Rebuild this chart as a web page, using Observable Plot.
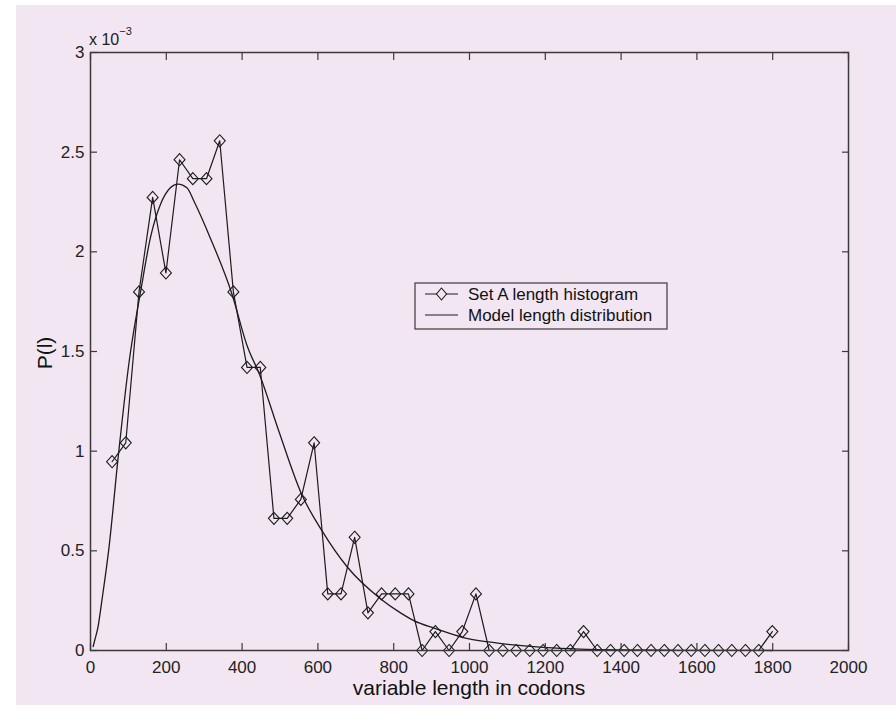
<!DOCTYPE html>
<html>
<head>
<meta charset="utf-8">
<script src="https://cdn.jsdelivr.net/npm/d3@7"></script>
<script src="https://cdn.jsdelivr.net/npm/@observablehq/plot@0.6"></script>
<style>
  html, body { margin: 0; padding: 0; background: #ffffff; }
  #wrap { position: relative; width: 896px; height: 712px; overflow: hidden; }
  #bg { position: absolute; left: 16px; top: 5px; width: 880px; height: 700px; background: #f2e6f2; }
  #chart { position: absolute; left: 0; top: 0; }
</style>
</head>
<body>
<div id="wrap"><div id="bg"></div><div id="chart"></div></div>
<script>
// Histogram (Set A length histogram): bin positions (codons) and P(l) in units of 1e-3
const histX = [57, 93, 128, 164, 199, 235, 270, 306, 341, 377, 413, 448, 484, 519, 555, 590, 626, 661, 697, 732,
  768, 804, 839, 875, 910, 946, 981, 1017, 1052, 1088, 1123, 1159, 1194, 1230, 1266, 1301, 1337, 1372, 1408, 1443,
  1479, 1514, 1550, 1585, 1621, 1657, 1692, 1728, 1763, 1799];
const histY = [0.947, 1.042, 1.799, 2.273, 1.894, 2.462, 2.367, 2.367, 2.557, 1.799,
  1.420, 1.420, 0.663, 0.663, 0.758, 1.042, 0.284, 0.284, 0.568, 0.189,
  0.284, 0.284, 0.284, 0, 0.095, 0, 0.095, 0.284, 0, 0,
  0, 0, 0, 0, 0, 0.095, 0, 0, 0, 0,
  0, 0, 0, 0, 0, 0, 0, 0, 0, 0.095];

// Model length distribution (codons, P(l) in units of 1e-3)
const modelX = [7, 11, 20, 30, 49, 73, 102, 134, 158, 185, 210, 231, 255, 274, 316, 373, 413, 447, 497, 558,
  611, 677, 765, 817, 853, 910, 984, 1050, 1116, 1204, 1292, 1400, 1550, 1700, 1800];
const modelY = [0.02, 0.05, 0.12, 0.25, 0.52, 0.97, 1.45, 1.82, 2.07, 2.24, 2.32, 2.34, 2.32, 2.25, 2.07, 1.79, 1.53, 1.38, 1.10, 0.78,
  0.60, 0.42, 0.26, 0.19, 0.15, 0.11, 0.065, 0.043, 0.028, 0.014, 0.007, 0.003, 0.001, 0.0003, 0.0001];

const xTicks = [0, 200, 400, 600, 800, 1000, 1200, 1400, 1600, 1800, 2000];
const yTicks = [0, 0.5, 1, 1.5, 2, 2.5, 3];

const xLabel = "variable length in codons";
const yLabel = "P(l)";
const legendLabels = ["Set A length histogram", "Model length distribution"];

const hist = histX.map((x, i) => ({x, y: histY[i]}));
const model = modelX.map((x, i) => ({x, y: modelY[i]}));

const diamond = {
  draw(ctx, size) {
    const r = Math.sqrt(size / Math.PI);
    const w = r, h = r * 1.1;
    ctx.moveTo(0, -h); ctx.lineTo(w, 0); ctx.lineTo(0, h); ctx.lineTo(-w, 0); ctx.closePath();
  }
};

const ink = "#1c1c1c";
const axisInk = "#3a3a3a";
const fmt = d => String(d);
const font = "'Liberation Sans', Arial, Helvetica, sans-serif";

const chart = Plot.plot({
  width: 896,
  height: 712,
  marginLeft: 90,
  marginRight: 48,
  marginTop: 52,
  marginBottom: 62,
  style: {background: "transparent", fontFamily: font, fontSize: "17px", color: "#222"},
  x: {domain: [0, 2000]},
  y: {domain: [0, 3]},
  marks: [
    Plot.line(model, {x: "x", y: "y", stroke: ink, strokeWidth: 1.3, curve: "monotone-x"}),
    Plot.line(hist, {x: "x", y: "y", stroke: ink, strokeWidth: 1.2}),
    Plot.dot(hist, {x: "x", y: "y", symbol: diamond, r: 5.5, stroke: ink, strokeWidth: 1.1, fill: "none"}),
    Plot.frame({stroke: axisInk, strokeWidth: 1.5}),
    // inward ticks on all four sides
    Plot.axisX(xTicks, {anchor: "bottom", tickSize: -7, tickFormat: () => "", stroke: axisInk, strokeWidth: 1.2, label: null}),
    Plot.axisX(xTicks, {anchor: "top", tickSize: -7, tickFormat: () => "", stroke: axisInk, strokeWidth: 1.2, label: null}),
    Plot.axisY(yTicks, {anchor: "left", tickSize: -7, tickFormat: () => "", stroke: axisInk, strokeWidth: 1.2, label: null}),
    Plot.axisY(yTicks, {anchor: "right", tickSize: -7, tickFormat: () => "", stroke: axisInk, strokeWidth: 1.2, label: null}),
    // tick labels
    Plot.axisX(xTicks, {anchor: "bottom", tickSize: 0, tickPadding: 10, tickFormat: fmt, label: null, fill: "#222", fontSize: 17}),
    Plot.axisY(yTicks, {anchor: "left", tickSize: 0, tickPadding: 6, tickFormat: fmt, label: null, fill: "#222", fontSize: 17})
  ]
});

document.getElementById("chart").appendChild(chart);

const svg = d3.select(chart);

// exponent label
const ex = svg.append("text").attr("x", 89).attr("y", 45).attr("text-anchor", "start")
  .attr("font-family", font).attr("font-size", 16).attr("fill", "#222");
ex.append("tspan").text("x 10");
ex.append("tspan").attr("dy", -10).attr("font-size", 11).text("\u22123");

// axis titles
svg.append("text").attr("x", 469).attr("y", 695).attr("text-anchor", "middle")
  .attr("font-family", font).attr("font-size", 21).attr("fill", "#111").text(xLabel);
svg.append("text").attr("transform", "translate(52,353) rotate(-90)").attr("text-anchor", "middle")
  .attr("font-family", font).attr("font-size", 21).attr("fill", "#111").text(yLabel);

// legend
const lg = svg.append("g").attr("font-family", font).attr("font-size", 17).attr("fill", "#111").attr("text-anchor", "start");
lg.append("rect").attr("x", 415).attr("y", 283).attr("width", 252).attr("height", 46)
  .attr("fill", "#f2e6f2").attr("stroke", axisInk).attr("stroke-width", 1.2);
lg.append("line").attr("x1", 425).attr("x2", 458).attr("y1", 294).attr("y2", 294).attr("stroke", ink).attr("stroke-width", 1.2);
lg.append("path").attr("d", "M441.5,288L446.5,294L441.5,300L436.5,294Z").attr("fill", "#f2e6f2").attr("stroke", ink).attr("stroke-width", 1.1);
lg.append("text").attr("x", 468).attr("y", 300).attr("text-anchor", "start").text(legendLabels[0]);
lg.append("line").attr("x1", 425).attr("x2", 458).attr("y1", 315).attr("y2", 315).attr("stroke", ink).attr("stroke-width", 1.2);
lg.append("text").attr("x", 468).attr("y", 321).attr("text-anchor", "start").text(legendLabels[1]);
</script>
</body>
</html>
